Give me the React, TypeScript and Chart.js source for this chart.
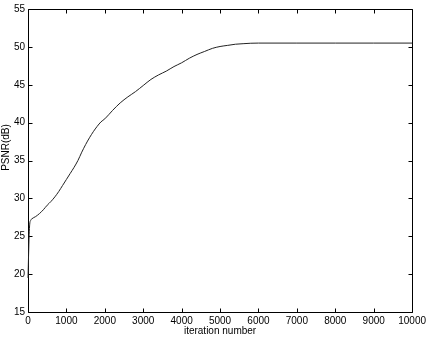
import React, { useEffect, useRef } from "react";
import { Chart, registerables } from "chart.js";

Chart.register(...registerables);

const iterations = [
  0, 15, 30, 45, 70, 100, 200, 300, 400, 500, 600, 700, 800, 900, 1000, 1100, 1200,
  1300, 1400, 1500, 1600, 1700, 1800, 1900, 2000, 2200, 2400, 2600, 2800, 3000,
  3200, 3400, 3600, 3800, 4000, 4200, 4400, 4600, 4800, 5000, 5200, 5400, 5600,
  5800, 6000, 7000, 8000, 9000, 10000,
];
const psnr = [
  19.5, 22.5, 25.2, 26.6, 27.1, 27.3, 27.6, 28.0, 28.5, 29.1, 29.6, 30.2, 30.9, 31.7,
  32.5, 33.3, 34.1, 35.0, 36.1, 37.1, 38.0, 38.8, 39.5, 40.1, 40.5, 41.6, 42.6,
  43.4, 44.1, 44.9, 45.7, 46.3, 46.8, 47.4, 47.9, 48.5, 49.0, 49.4, 49.8, 50.05,
  50.2, 50.35, 50.42, 50.48, 50.5, 50.5, 50.5, 50.5, 50.5,
];
const xTicks = [0, 1000, 2000, 3000, 4000, 5000, 6000, 7000, 8000, 9000, 10000];
const yTicks = [15, 20, 25, 30, 35, 40, 45, 50, 55];
const xTitle = "iteration number";
const yTitle = "PSNR(dB)";

const FONT = "'Liberation Sans', Arial, Helvetica, sans-serif";

const framePlugin = {
  id: "frameTicks",
  beforeDatasetsDraw(chart: any) {
    const { ctx, chartArea } = chart;
    const { left, right, top, bottom } = chartArea;
    const xs = chart.scales.x;
    const ys = chart.scales.y;
    ctx.save();
    ctx.strokeStyle = "#000";
    ctx.lineWidth = 1;
    ctx.beginPath();
    const L = Math.round(left) + 0.5;
    const R = Math.round(right) + 0.5;
    const T = Math.round(top) + 0.5;
    const B = Math.round(bottom) + 0.5;
    ctx.rect(L, T, R - L, B - T);
    const tl = 4;
    xTicks.forEach((v) => {
      const px = Math.round(xs.getPixelForValue(v)) + 0.5;
      ctx.moveTo(px, B);
      ctx.lineTo(px, B - tl);
      ctx.moveTo(px, T);
      ctx.lineTo(px, T + tl);
    });
    yTicks.forEach((v) => {
      const py = Math.round(ys.getPixelForValue(v)) + 0.5;
      ctx.moveTo(L, py);
      ctx.lineTo(L + tl, py);
      ctx.moveTo(R, py);
      ctx.lineTo(R - tl, py);
    });
    ctx.stroke();
    // y-axis title, placed slightly above centre as in the original figure
    ctx.fillStyle = "#000";
    ctx.font = `10px ${FONT}`;
    ctx.textAlign = "center";
    ctx.textBaseline = "middle";
    ctx.translate(6, (top + bottom) / 2 - 13);
    ctx.rotate(-Math.PI / 2);
    ctx.fillText(yTitle, 0, 0);
    ctx.restore();
  },
};

export default function App() {
  const ref = useRef<HTMLCanvasElement | null>(null);
  useEffect(() => {
    if (!ref.current) return;
    const chart = new Chart(ref.current, {
      type: "line",
      data: {
        datasets: [
          {
            data: iterations.map((x, i) => ({ x, y: psnr[i] })),
            borderColor: "#222",
            borderWidth: 1,
            pointRadius: 0,
            cubicInterpolationMode: "monotone",
            fill: false,
            clip: 2,
          },
        ],
      },
      options: {
        responsive: false,
        animation: false,
        layout: { padding: { top: 8, right: 15, left: 0, bottom: 0 } },
        plugins: { legend: { display: false }, tooltip: { enabled: false } },
        scales: {
          x: {
            type: "linear",
            min: 0,
            max: 10000,
            afterBuildTicks: (s: any) => {
              s.ticks = xTicks.map((v) => ({ value: v }));
            },
            afterFit: (s: any) => {
              s.height = 25;
            },
            grid: { display: false, drawTicks: false },
            border: { display: false },
            ticks: {
              color: "#000",
              font: { family: FONT, size: 10 },
              padding: 3,
              maxRotation: 0,
              autoSkip: false,
              callback: (v: any) => String(v),
            },
            title: {
              display: true,
              text: xTitle,
              color: "#000",
              font: { family: FONT, size: 10 },
              padding: { top: 0, bottom: 0 },
            },
          },
          y: {
            type: "linear",
            min: 15,
            max: 55,
            afterBuildTicks: (s: any) => {
              s.ticks = yTicks.map((v) => ({ value: v }));
            },
            afterFit: (s: any) => {
              s.width = 28;
            },
            grid: { display: false, drawTicks: false },
            border: { display: false },
            ticks: {
              color: "#000",
              font: { family: FONT, size: 10 },
              padding: 3,
              autoSkip: false,
              callback: (v: any) => String(v),
            },
            title: { display: false },
          },
        },
      },
      plugins: [framePlugin],
    } as any);
    return () => chart.destroy();
  }, []);
  return (
    <div style={{ position: "fixed", left: 0, top: 0, width: 429, height: 337, background: "#fff" }}>
      <canvas ref={ref} width={429} height={337} style={{ display: "block" }} />
    </div>
  );
}
